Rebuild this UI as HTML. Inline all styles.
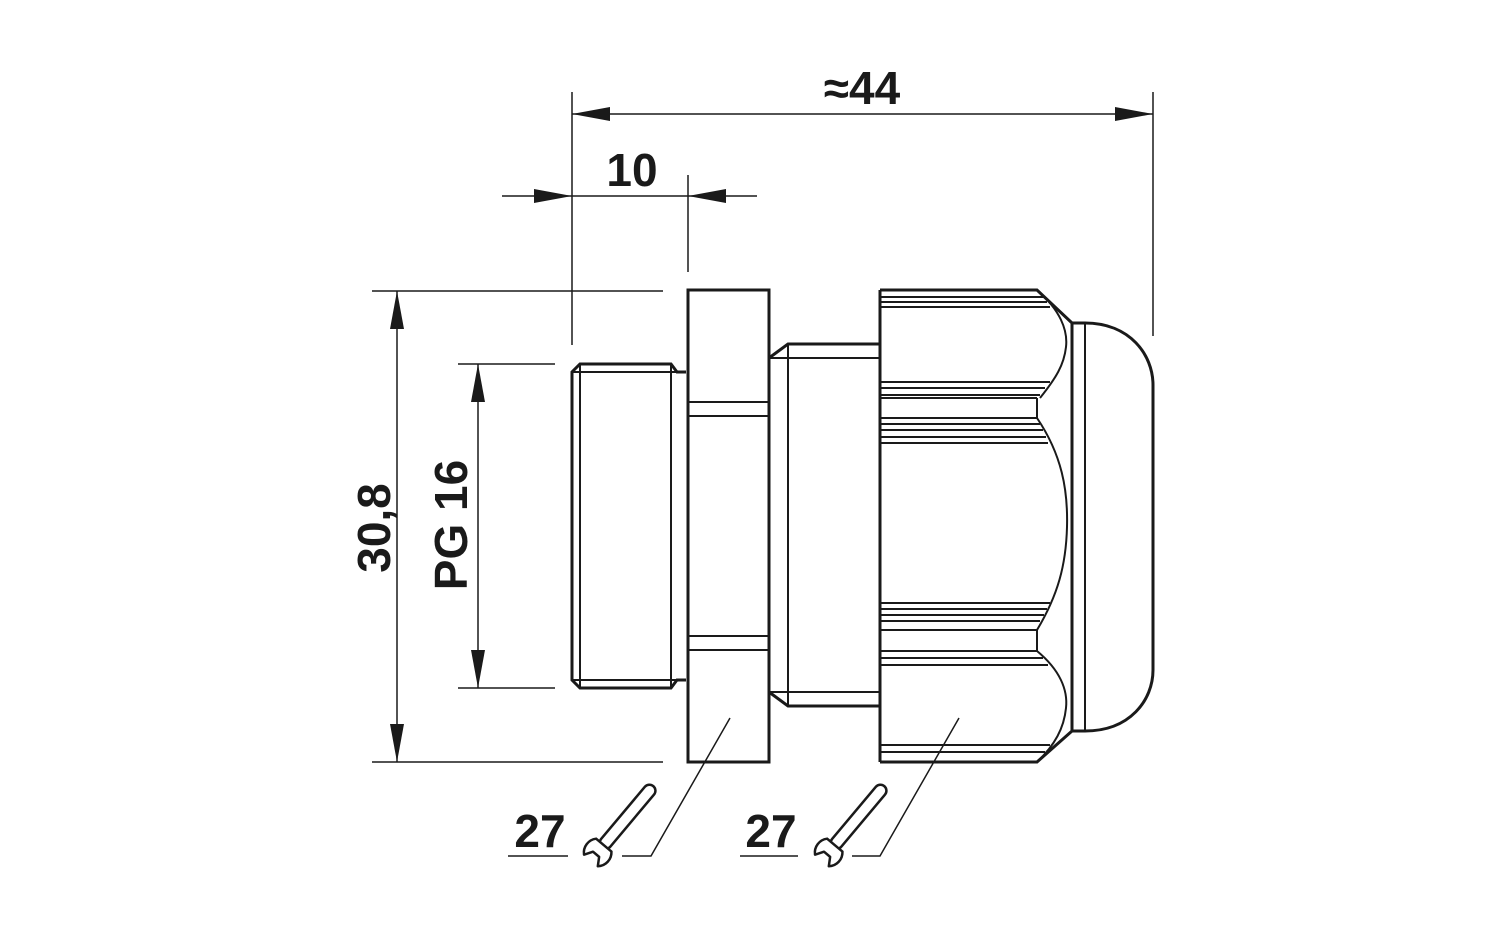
<!DOCTYPE html>
<html><head><style>body{margin:0;background:#fff}svg{display:block}</style></head><body>
<svg width="1500" height="937" viewBox="0 0 1500 937" xmlns="http://www.w3.org/2000/svg" font-family="Liberation Sans, sans-serif" font-weight="bold">
<g stroke="#1a1a1a" fill="none" stroke-width="1.5">
<line x1="572" y1="92" x2="572" y2="345"/>
<line x1="1153" y1="92" x2="1153" y2="336"/>
<line x1="688" y1="175" x2="688" y2="272"/>
<line x1="372" y1="291" x2="663" y2="291"/>
<line x1="372" y1="762" x2="663" y2="762"/>
<line x1="458" y1="364" x2="555" y2="364"/>
<line x1="458" y1="688" x2="555" y2="688"/>
<line x1="572" y1="114" x2="1153" y2="114"/>
<line x1="502" y1="196" x2="757" y2="196"/>
<line x1="397" y1="291" x2="397" y2="762"/>
<line x1="478" y1="364" x2="478" y2="688"/>
<polyline points="730,718 651,856 622,856"/>
<polyline points="959,718 880,856 852,856"/>
<line x1="508" y1="856" x2="568" y2="856"/>
<line x1="740" y1="856" x2="798" y2="856"/>
</g>
<g fill="#1a1a1a">
<polygon points="572,114 610,107 610,121"/>
<polygon points="1153,114 1115,107 1115,121"/>
<polygon points="572,196 534,189 534,203"/>
<polygon points="688,196 726,189 726,203"/>
<polygon points="397,291 390,329 404,329"/>
<polygon points="397,762 390,724 404,724"/>
<polygon points="478,364 471,402 485,402"/>
<polygon points="478,688 471,650 485,650"/>
</g>
<g fill="#1a1a1a" font-size="46">
<text x="862" y="104" text-anchor="middle">≈44</text>
<text x="632" y="186" text-anchor="middle">10</text>
<text transform="translate(390,528) rotate(-90)" text-anchor="middle">30,8</text>
<text transform="translate(467,525) rotate(-90)" text-anchor="middle">PG 16</text>
<text x="540" y="847" text-anchor="middle">27</text>
<text x="771" y="847" text-anchor="middle">27</text>
</g>
<g stroke="#1a1a1a" fill="none" stroke-width="3" stroke-linejoin="miter">
<polyline points="686,372 677,372 671,364 580,364 572,372 572,680 580,688 671,688 677,680 686,680"/>
<rect x="688" y="290" width="81" height="472"/>
<polyline points="769,358 788,344 880,344"/>
<polyline points="769,692 788,706 880,706"/>
<polyline points="880,290 1037,290 1072,323 1085,323"/>
<polyline points="880,762 1037,762 1072,731 1085,731"/>
<line x1="880" y1="290" x2="880" y2="762"/>
<path d="M1085,323 C1130,323 1153,355 1153,385 L1153,670 C1153,700 1130,731 1085,731"/>
<line x1="1072" y1="323" x2="1072" y2="731"/>
</g>
<g stroke="#1a1a1a" fill="none" stroke-width="2">
<line x1="572" y1="372" x2="680" y2="372"/>
<line x1="572" y1="680" x2="680" y2="680"/>
<line x1="580" y1="364" x2="580" y2="688"/>
<line x1="671" y1="364" x2="671" y2="688"/>
<line x1="688" y1="402" x2="769" y2="402"/>
<line x1="688" y1="416" x2="769" y2="416"/>
<line x1="688" y1="636" x2="769" y2="636"/>
<line x1="688" y1="650" x2="769" y2="650"/>
<line x1="769" y1="358" x2="880" y2="358"/>
<line x1="769" y1="692" x2="880" y2="692"/>
<line x1="788" y1="344" x2="788" y2="706"/>
<line x1="1085" y1="323" x2="1085" y2="731"/>
<line x1="880" y1="297" x2="1044" y2="297"/>
<line x1="880" y1="302" x2="1047" y2="302"/>
<line x1="880" y1="307" x2="1050" y2="307"/>
<line x1="880" y1="382" x2="1050" y2="382"/>
<line x1="880" y1="388" x2="1045" y2="388"/>
<line x1="880" y1="395" x2="1040" y2="395"/>
<line x1="880" y1="398" x2="1037" y2="398"/>
<line x1="1037" y1="398" x2="1037" y2="418"/>
<line x1="880" y1="418" x2="1037" y2="418"/>
<line x1="880" y1="424" x2="1040" y2="424"/>
<line x1="880" y1="430" x2="1043" y2="430"/>
<line x1="880" y1="437" x2="1046" y2="437"/>
<line x1="880" y1="443" x2="1048" y2="443"/>
<line x1="880" y1="603" x2="1050" y2="603"/>
<line x1="880" y1="609" x2="1047" y2="609"/>
<line x1="880" y1="615" x2="1044" y2="615"/>
<line x1="880" y1="621" x2="1040" y2="621"/>
<line x1="880" y1="630" x2="1037" y2="630"/>
<line x1="1037" y1="630" x2="1037" y2="651"/>
<line x1="880" y1="651" x2="1037" y2="651"/>
<line x1="880" y1="658" x2="1043" y2="658"/>
<line x1="880" y1="665" x2="1048" y2="665"/>
<line x1="880" y1="745" x2="1050" y2="745"/>
<line x1="880" y1="752" x2="1045" y2="752"/>
<path d="M1037,290 C1060,310 1068,330 1066,347 C1064,365 1056,378 1040,398"/>
<path d="M1037,418 C1062,455 1068,490 1067,527 C1066,565 1058,595 1037,630"/>
<path d="M1037,651 C1060,670 1068,690 1066,708 C1064,728 1055,745 1037,762"/>
</g>
<g stroke="#1a1a1a" fill="#fff" stroke-width="2.5" stroke-linejoin="round">
<g transform="translate(598,852) rotate(-50)">
<rect x="6" y="-6" width="80" height="12" rx="6"/>
<path d="M9,-10 A14,14 0 0 0 -11,-9 L-3,-4 L-3,4 L-11,9 A14,14 0 0 0 9,10 Z"/>
</g>
<g transform="translate(829,852) rotate(-50)">
<rect x="6" y="-6" width="80" height="12" rx="6"/>
<path d="M9,-10 A14,14 0 0 0 -11,-9 L-3,-4 L-3,4 L-11,9 A14,14 0 0 0 9,10 Z"/>
</g>
</g>
</svg>
</body></html>
